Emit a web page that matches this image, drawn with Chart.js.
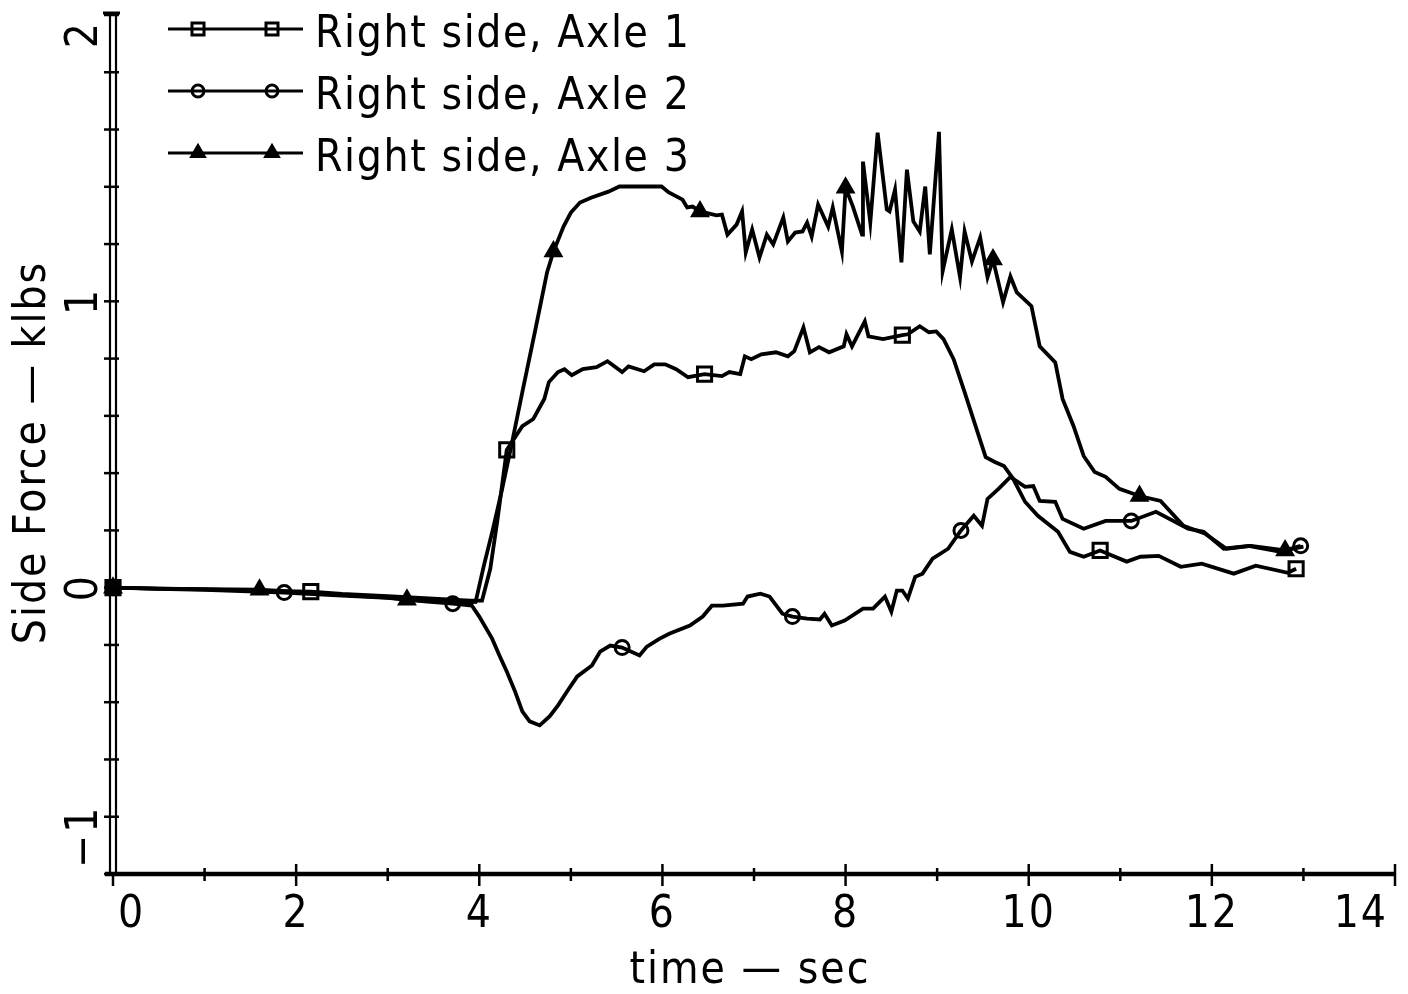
<!DOCTYPE html>
<html>
<head>
<meta charset="utf-8">
<script src="https://cdn.jsdelivr.net/npm/chart.js@4.4.1/dist/chart.umd.min.js"></script>
<style>
  html, body { margin: 0; padding: 0; background: #fff; }
  #wrap { width: 1408px; height: 994px; }
</style>
</head>
<body>
<div id="wrap"><canvas id="sideForceChart" width="1408" height="994"></canvas></div>
<script>
// values (time in sec, side force in klbs)
const seriesLabels = ["Right side, Axle 1", "Right side, Axle 2", "Right side, Axle 3"]

const axle1Time = [0, 0.5, 1.0, 1.5, 2.16, 2.5, 3.0, 3.5, 3.9, 4.03, 4.12, 4.2, 4.3, 4.47, 4.59, 4.71, 4.76, 4.86, 4.93, 5.01, 5.13, 5.28, 5.4, 5.56, 5.63, 5.8, 5.91, 6.03, 6.15, 6.28, 6.46, 6.65, 6.73, 6.85, 6.9, 6.97, 7.08, 7.24, 7.37, 7.44, 7.54, 7.61, 7.71, 7.82, 7.98, 8.01, 8.07, 8.21, 8.25, 8.41, 8.62, 8.68, 8.81, 8.91, 8.99, 9.07, 9.18, 9.3, 9.42, 9.53, 9.63, 9.73, 9.83, 9.96, 10.1, 10.32, 10.45, 10.6, 10.78, 10.87, 11.07, 11.22, 11.42, 11.66, 11.89, 12.24, 12.48, 12.83, 12.92]
const axle1Force = [0, -0.003, -0.006, -0.01, -0.014, -0.022, -0.03, -0.038, -0.045, -0.045, 0.066, 0.24, 0.481, 0.564, 0.589, 0.659, 0.718, 0.753, 0.763, 0.742, 0.763, 0.77, 0.791, 0.753, 0.773, 0.756, 0.78, 0.78, 0.763, 0.735, 0.746, 0.739, 0.753, 0.746, 0.808, 0.798, 0.815, 0.822, 0.808, 0.826, 0.909, 0.822, 0.84, 0.822, 0.843, 0.885, 0.843, 0.93, 0.878, 0.868, 0.882, 0.885, 0.913, 0.892, 0.895, 0.868, 0.798, 0.683, 0.564, 0.456, 0.439, 0.425, 0.38, 0.30, 0.251, 0.195, 0.125, 0.108, 0.13, 0.118, 0.091, 0.108, 0.111, 0.073, 0.084, 0.049, 0.077, 0.052, 0.066]
const axle1Marks = [0, 2.16, 4.3, 6.46, 8.62, 10.78, 12.92]

const axle2Time = [0, 0.5, 1.0, 1.4, 1.87, 2.5, 3.0, 3.4, 3.71, 3.92, 4.0, 4.14, 4.22, 4.3, 4.39, 4.47, 4.55, 4.66, 4.77, 4.86, 4.96, 5.07, 5.23, 5.32, 5.43, 5.56, 5.75, 5.83, 5.97, 6.08, 6.3, 6.44, 6.54, 6.66, 6.88, 6.93, 7.07, 7.17, 7.31, 7.42, 7.58, 7.72, 7.77, 7.85, 7.99, 8.19, 8.3, 8.43, 8.5, 8.56, 8.62, 8.68, 8.76, 8.84, 8.95, 9.12, 9.26, 9.4, 9.49, 9.55, 9.67, 9.8, 9.96, 10.05, 10.12, 10.29, 10.37, 10.6, 10.84, 11.12, 11.39, 11.74, 11.91, 12.13, 12.4, 12.75, 12.97]
const axle2Force = [0, -0.004, -0.008, -0.012, -0.017, -0.028, -0.036, -0.048, -0.056, -0.063, -0.101, -0.178, -0.237, -0.293, -0.362, -0.432, -0.467, -0.481, -0.449, -0.411, -0.362, -0.31, -0.272, -0.223, -0.202, -0.209, -0.237, -0.206, -0.178, -0.16, -0.132, -0.101, -0.063, -0.063, -0.056, -0.031, -0.021, -0.031, -0.091, -0.101, -0.108, -0.111, -0.091, -0.132, -0.115, -0.073, -0.073, -0.031, -0.084, -0.01, -0.01, -0.038, 0.038, 0.049, 0.101, 0.136, 0.2, 0.251, 0.216, 0.31, 0.345, 0.387, 0.352, 0.355, 0.303, 0.30, 0.24, 0.206, 0.233, 0.233, 0.265, 0.206, 0.195, 0.136, 0.146, 0.125, 0.146]
const axle2Marks = [0, 1.87, 3.71, 5.56, 7.42, 9.26, 11.12, 12.97]

const axle3Time = [0, 0.5, 1.0, 1.6, 2.0, 2.5, 3.0, 3.21, 3.5, 3.8, 3.96, 4.05, 4.15, 4.25, 4.35, 4.47, 4.62, 4.74, 4.81, 4.92, 5.0, 5.1, 5.22, 5.41, 5.53, 5.99, 6.07, 6.22, 6.27, 6.33, 6.41, 6.59, 6.65, 6.71, 6.81, 6.87, 6.91, 6.98, 7.06, 7.14, 7.21, 7.32, 7.37, 7.45, 7.53, 7.58, 7.63, 7.7, 7.81, 7.86, 7.96, 8.0, 8.08, 8.18, 8.19, 8.27, 8.35, 8.45, 8.48, 8.54, 8.61, 8.67, 8.74, 8.81, 8.87, 8.92, 9.02, 9.06, 9.16, 9.25, 9.3, 9.38, 9.47, 9.55, 9.61, 9.72, 9.8, 9.87, 10.03, 10.12, 10.29, 10.37, 10.49, 10.6, 10.72, 10.84, 10.99, 11.21, 11.44, 11.69, 11.93, 12.16, 12.43, 12.8, 13.0]
const axle3Force = [0, -0.003, -0.005, -0.007, -0.015, -0.025, -0.035, -0.042, -0.048, -0.052, -0.05, 0.077, 0.206, 0.345, 0.495, 0.683, 0.913, 1.101, 1.174, 1.261, 1.31, 1.345, 1.362, 1.383, 1.401, 1.401, 1.38, 1.355, 1.328, 1.331, 1.314, 1.30, 1.303, 1.233, 1.268, 1.314, 1.171, 1.251, 1.153, 1.233, 1.199, 1.293, 1.209, 1.24, 1.244, 1.275, 1.226, 1.338, 1.261, 1.328, 1.174, 1.397, 1.331, 1.233, 1.488, 1.275, 1.589, 1.321, 1.314, 1.39, 1.136, 1.46, 1.279, 1.244, 1.401, 1.164, 1.592, 1.105, 1.251, 1.084, 1.244, 1.139, 1.223, 1.084, 1.146, 0.997, 1.087, 1.031, 0.983, 0.843, 0.787, 0.659, 0.564, 0.46, 0.404, 0.387, 0.345, 0.32, 0.303, 0.216, 0.188, 0.136, 0.146, 0.13, 0.143]
const axle3Marks = [0, 1.6, 3.21, 4.81, 6.41, 8.0, 9.61, 11.21, 12.8]

const xTickValues = [0, 1, 2, 3, 4, 5, 6, 7, 8, 9, 10, 11, 12, 13, 14]
const xLabelValues = [0, 2, 4, 6, 8, 10, 12, 14]
const xTickLabels = ["0", "2", "4", "6", "8", "10", "12", "14"]
const yTickValues = [-1, -0.8, -0.6, -0.4, -0.2, 0, 0.2, 0.4, 0.6, 0.8, 1, 1.2, 1.4, 1.6, 1.8, 2]
const yLabelValues = [2, 1, 0, -1]
const yTickLabels = ["2", "1", "0", "\u22121"]
const xTitle = "time \u2014 sec"
const yTitle = "Side Force \u2014 klbs"

const FONT = '"Liberation Sans Narrow", "DejaVu Sans Condensed", "Liberation Sans", sans-serif'

function toPoints(times, forces) {
  return times.map((t, i) => ({ x: t, y: forces[i] }))
}

function markerRadius(times, marks, r) {
  return (ctx) => (marks.includes(times[ctx.dataIndex]) ? r : 0)
}

function setFont(ctx, size, spacing) {
  ctx.font = size + "px " + FONT
  if ("letterSpacing" in ctx) ctx.letterSpacing = spacing + "px"
}

function clamp(v, lo, hi) {
  return Math.max(lo, Math.min(hi, v))
}

// plotter style axes: double y spine, crossing ticks, rotated y labels
const plotterAxes = {
  id: "plotterAxes",
  beforeDatasetsDraw(chart) {
    const { ctx, scales } = chart
    const xs = scales.x
    const ys = scales.y
    const x0 = xs.getPixelForValue(0)
    const x14 = xs.getPixelForValue(14)
    const yTop = ys.getPixelForValue(2)
    const yBot = ys.getPixelForValue(-1)

    ctx.save()
    ctx.strokeStyle = "#000"
    ctx.fillStyle = "#000"

    ctx.lineWidth = 2.2
    for (const dx of [-3, 3]) {
      ctx.beginPath()
      ctx.moveTo(x0 + dx, yTop - 2)
      ctx.lineTo(x0 + dx, yBot)
      ctx.stroke()
    }
    ctx.lineWidth = 3
    ctx.beginPath()
    ctx.moveTo(x0 - 10, yTop - 2)
    ctx.lineTo(x0 + 7, yTop - 2)
    ctx.stroke()

    ctx.lineWidth = 2.5
    for (const v of yTickValues) {
      const py = ys.getPixelForValue(v)
      ctx.beginPath()
      ctx.moveTo(x0 - 9, py)
      ctx.lineTo(x0 + 6, py)
      ctx.stroke()
    }

    ctx.lineWidth = 4.5
    ctx.beginPath()
    ctx.moveTo(x0 - 8, yBot)
    ctx.lineTo(x14, yBot)
    ctx.stroke()

    ctx.lineWidth = 2.5
    for (const v of xTickValues) {
      const px = xs.getPixelForValue(v)
      const up = v % 2 === 0 ? 10 : 6
      const down = v % 2 === 0 ? 12 : 7
      ctx.beginPath()
      ctx.moveTo(px, yBot - (v === 0 ? 0 : up))
      ctx.lineTo(px, yBot + down)
      ctx.stroke()
    }

    setFont(ctx, 44, 2)
    ctx.textBaseline = "alphabetic"
    ctx.textAlign = "center"
    xLabelValues.forEach((v, i) => {
      const w = ctx.measureText(xTickLabels[i]).width
      const px = clamp(xs.getPixelForValue(v), x0 + 5 + w / 2, x14 - 7 - w / 2)
      ctx.fillText(xTickLabels[i], px, 927)
    })

    yLabelValues.forEach((v, i) => {
      const w = ctx.measureText(yTickLabels[i]).width
      const py = clamp(ys.getPixelForValue(v), yTop + 6 + w / 2, yBot - 6 - w / 2)
      ctx.save()
      ctx.translate(97, py)
      ctx.rotate(-Math.PI / 2)
      ctx.fillText(yTickLabels[i], 0, 0)
      ctx.restore()
    })

    ctx.fillText(xTitle, (x0 + x14) / 2 - 4, 983)
    ctx.save()
    ctx.translate(45, (yTop + yBot) / 2 + 8)
    ctx.rotate(-Math.PI / 2)
    ctx.fillText(yTitle, 0, 0)
    ctx.restore()

    ctx.restore()
  },
}

// legend drawn like the plotter key: line with two markers, then label
const plotterLegend = {
  id: "plotterLegend",
  afterDraw(chart) {
    const { ctx } = chart
    chart.data.datasets.forEach((ds, i) => {
      const ly = 29 + i * 62
      ctx.save()
      ctx.strokeStyle = "#000"
      ctx.lineWidth = 3
      ctx.beginPath()
      ctx.moveTo(168, ly)
      ctx.lineTo(303, ly)
      ctx.stroke()
      for (const mx of [198, 272]) {
        ctx.fillStyle = ds.pointBackgroundColor
        ctx.strokeStyle = "#000"
        ctx.lineWidth = 3
        Chart.helpers.drawPoint(ctx, { pointStyle: ds.pointStyle, radius: ds.legendRadius, borderWidth: 3, rotation: 0 }, mx, ly)
      }
      ctx.fillStyle = "#000"
      setFont(ctx, 44, 1.6)
      ctx.textAlign = "left"
      ctx.textBaseline = "alphabetic"
      ctx.fillText(ds.label, 315, ly + 18)
      ctx.restore()
    })
  },
}

function baseDataset(label, times, forces, marks, style, radius, fill) {
  return {
    label: label,
    data: toPoints(times, forces),
    borderColor: "#000",
    borderWidth: 3.8,
    tension: 0,
    pointStyle: style,
    pointRadius: markerRadius(times, marks, radius),
    pointHoverRadius: 0,
    pointBackgroundColor: fill,
    pointBorderColor: "#000",
    pointBorderWidth: 3,
    legendRadius: radius * 0.85,
    clip: false,
  }
}

const chartCanvas = document.getElementById("sideForceChart")
new Chart(chartCanvas.getContext("2d"), {
  type: "line",
  data: {
    datasets: [
      baseDataset(seriesLabels[0], axle1Time, axle1Force, axle1Marks, "rect", 10, "rgba(0,0,0,0)"),
      baseDataset(seriesLabels[1], axle2Time, axle2Force, axle2Marks, "circle", 7, "rgba(0,0,0,0)"),
      baseDataset(seriesLabels[2], axle3Time, axle3Force, axle3Marks, "triangle", 8.5, "#000"),
    ],
  },
  options: {
    responsive: false,
    animation: false,
    events: [],
    layout: { padding: { left: 113, right: 13, top: 15, bottom: 120 } },
    plugins: {
      legend: { display: false },
      tooltip: { enabled: false },
    },
    scales: {
      x: { type: "linear", min: 0, max: 14, display: false },
      y: { type: "linear", min: -1, max: 2, display: false },
    },
  },
  plugins: [plotterAxes, plotterLegend],
})
</script>
</body>
</html>
